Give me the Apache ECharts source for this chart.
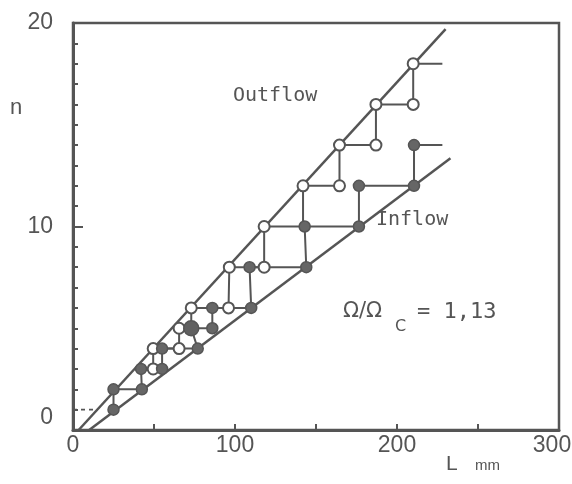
<!DOCTYPE html>
<html>
<head>
<meta charset="utf-8">
<script src="https://cdn.jsdelivr.net/npm/echarts@6/dist/echarts.min.js"></script>
<style>
html,body{margin:0;padding:0;background:#fff;}
#chart{width:572px;height:484px;}
</style>
</head>
<body>
<div id="chart"></div>
<script>
// Reference lines (L mm, n)
var outflowLine = [[3.5, 0], [230, 19.7]];
var inflowLine = [[10, 0], [233, 13.35]];
// Staircase paths
var outflowSteps = [[49.5,3],[49.5,4],[65.5,4],[65.5,5],[73,5],[73,6],[96,6],[96.5,8],[118,8],[118,10],[142,10],[142,12],[164.5,12],[164.5,14],[187,14],[187,16],[210,16],[210,18],[228,18]];
var inflowSteps = [[228,14],[210.5,14],[210.5,12],[176.5,12],[176.5,10],[143,10],[144,8],[109,8],[110,6],[86,6],[86,5],[73,5],[77,4],[55,4],[55,3],[42,3],[42.5,2],[25,2],[25,1]];
var startDashed = [[0,1],[15,1]];
// Points
var outflowPoints = [[210,18],[210,16],[187,16],[187,14],[164.5,14],[164.5,12],[142,12],[118,10],[118,8],[96.5,8],[96,6],[73,6],[65.5,5],[65.5,4],[49.5,4],[49.5,3]];
var inflowPoints = [[210.5,14],[210.5,12],[176.5,12],[176.5,10],[143,10],[144,8],[109,8],[110,6],[86,6],[86,5],[77,4],[55,4],[55,3],[42,3],[42.5,2],[25,2],[25,1]];
var inflowBigPoints = [[73,5]];
// Axis ticks
var xTickLabels = [0, 100, 200, 300];
var yTickLabels = [0, 10, 20];

var INK = '#555';
var chart = echarts.init(document.getElementById('chart'), null, {renderer:'canvas'});

function lineSeries(data, width, type) {
  return {type:'line', data:data, symbol:'none', silent:true, z:2,
    lineStyle:{color:INK, width:width, type:type||'solid'}, animation:false};
}

var option = {
  backgroundColor:'#fff',
  animation:false,
  grid:{left:73, right:13, top:23, bottom:54, containLabel:false, outerBoundsMode:'none',
    show:true, borderColor:INK, borderWidth:2.5, backgroundColor:'transparent'},
  xAxis:{type:'value', min:0, max:300, interval:50,
    axisLine:{lineStyle:{color:INK, width:3}},
    axisTick:{inside:true, length:6, lineStyle:{color:INK, width:2}},
    axisLabel:{color:INK, fontSize:23, fontFamily:'Liberation Sans', margin:4, hideOverlap:false,
      formatter:function(v){
        if (xTickLabels.indexOf(v) < 0) return '';
        return v === xTickLabels[xTickLabels.length - 1] ? '{e|' + v + '}' : String(v);
      },
      rich:{e:{fontSize:23, fontFamily:'Liberation Sans', color:INK, padding:[0,14,0,0]}}},
    splitLine:{show:false}},
  yAxis:{type:'value', min:0, max:20, interval:10,
    axisLine:{lineStyle:{color:INK, width:3}},
    axisTick:{inside:true, length:10, lineStyle:{color:INK, width:2}},
    minorTick:{show:true, splitNumber:10, length:5, lineStyle:{color:INK, width:2}},
    axisLabel:{color:INK, fontSize:23, fontFamily:'Liberation Sans', margin:20,
      formatter:function(v){ if (yTickLabels.indexOf(v) < 0) return ''; return v === 0 ? '{z|0}' : String(v); },
      rich:{z:{fontSize:23, fontFamily:'Liberation Sans', color:INK, padding:[0,0,24,0]}}},
    splitLine:{show:false}},
  series:[
    lineSeries(outflowLine, 2.5),
    lineSeries(inflowLine, 2.5),
    lineSeries(outflowSteps, 2),
    lineSeries(inflowSteps, 2),
    lineSeries(startDashed, 1.8, [4,4]),
    {type:'scatter', data:outflowPoints, symbol:'circle', symbolSize:11, z:5,
      itemStyle:{color:'#fff', borderColor:INK, borderWidth:2, opacity:1}},
    {type:'scatter', data:inflowPoints, symbol:'circle', symbolSize:11, z:5,
      itemStyle:{color:'#666', borderColor:INK, borderWidth:1.5, opacity:1}},
    {type:'scatter', data:inflowBigPoints, symbol:'circle', symbolSize:15, z:5,
      itemStyle:{color:'#606060', borderColor:INK, borderWidth:1.5, opacity:1}}
  ],
  graphic:[
    {type:'text', x:10, y:108, style:{text:'n', font:'22px "Liberation Sans"', fill:INK, verticalAlign:'middle'}},
    {type:'text', x:446, y:464, style:{text:'L', font:'21px "Liberation Sans"', fill:INK, verticalAlign:'middle'}},
    {type:'text', x:475, y:466, style:{text:'mm', font:'15px "Liberation Sans"', fill:INK, verticalAlign:'middle'}},
    {type:'text', x:233, y:96, style:{text:'Outflow', font:'20px "DejaVu Sans Mono"', fill:INK, verticalAlign:'middle'}},
    {type:'text', x:376, y:220, style:{text:'Inflow', font:'20px "DejaVu Sans Mono"', fill:INK, verticalAlign:'middle'}},
    {type:'text', x:343, y:312, style:{text:'\u03A9/\u03A9', font:'21px "DejaVu Sans"', fill:INK, verticalAlign:'middle'}},
    {type:'text', x:395, y:327, style:{text:'C', font:'16px "DejaVu Sans"', fill:INK, verticalAlign:'middle'}},
    {type:'text', x:417, y:312, style:{text:'= 1,13', font:'22px "DejaVu Sans Mono"', fill:INK, verticalAlign:'middle'}}
  ]
};
chart.setOption(option);
</script>
</body>
</html>
